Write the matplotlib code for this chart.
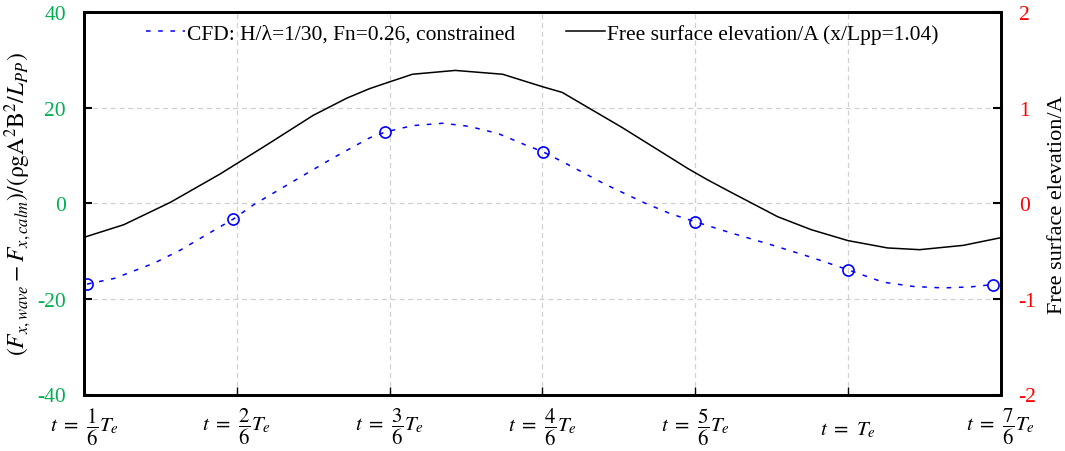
import numpy as np
import matplotlib
matplotlib.use("Agg")
import matplotlib.pyplot as plt
from matplotlib.transforms import ScaledTranslation

plt.rcParams['font.family'] = ['Liberation Serif', 'DejaVu Serif']
plt.rcParams['mathtext.fontset'] = 'stix'
plt.rcParams['axes.unicode_minus'] = False

# CFD force (left axis), x in units of Te/6
cfd_x = [1.02, 1.2, 1.46, 1.63, 1.80, 1.977, 2.11, 2.37, 2.63, 2.87, 2.97, 3.15, 3.35,
         3.52, 3.71, 3.89, 4.003, 4.15, 4.41, 4.67, 4.84, 5.0, 5.21, 5.50, 5.76, 6.0,
         6.23, 6.43, 6.62, 6.80, 6.95]
cfd_y = [-16.9, -15.7, -12.5, -9.8, -6.6, -3.3, -0.3, 4.6, 9.5, 13.7, 14.9, 16.25, 16.75,
         16.1, 14.6, 12.2, 10.8, 8.4, 4.0, 0.06, -2.2, -3.85, -5.95, -8.7, -11.3, -13.9,
         -16.5, -17.4, -17.7, -17.5, -17.0]
mark_x = [1.02, 1.977, 2.97, 4.003, 5.0, 6.0, 6.95]
mark_y = [-16.9, -3.3, 14.9, 10.8, -3.85, -13.9, -17.0]

# free surface elevation (right axis)
fs_x = [1.0, 1.26, 1.565, 1.89, 2.195, 2.50, 2.72, 2.87, 3.0, 3.15, 3.43, 3.74, 4.0,
        4.13, 4.52, 4.80, 4.95, 5.08, 5.235, 5.54, 5.76, 6.0, 6.26, 6.47, 6.755, 7.0]
fs_y = [-0.356, -0.224, 0.01, 0.306, 0.61, 0.92, 1.10, 1.20, 1.27, 1.35, 1.39, 1.35, 1.22,
        1.16, 0.795, 0.516, 0.366, 0.247, 0.115, -0.14, -0.276, -0.39, -0.467, -0.485,
        -0.44, -0.36]

xticks = [1, 2, 3, 4, 5, 6, 7]
xlabels = [r'$t\ =\ \dfrac{1}{6}T_e$', r'$t\ =\ \dfrac{2}{6}T_e$', r'$t\ =\ \dfrac{3}{6}T_e$',
           r'$t\ =\ \dfrac{4}{6}T_e$', r'$t\ =\ \dfrac{5}{6}T_e$', r'$t\ =\ T_e$',
           r'$t\ =\ \dfrac{7}{6}T_e$']

fig = plt.figure(figsize=(10.65, 4.52), dpi=100)
ax = fig.add_axes([0.0789, 0.125, 0.8607, 0.846])
ax2 = ax.twinx()

l1, = ax.plot(cfd_x, cfd_y, color='blue', lw=1.1, linestyle=(0, (3, 5)),
              label='CFD: H/λ=1/30, Fn=0.26, constrained')
ax.plot(mark_x, mark_y, 'o', mfc='none', mec='blue', ms=8, mew=1.2)
l2, = ax2.plot(fs_x, fs_y, color='black', lw=1.1,
               label='Free surface elevation/A (x/Lpp=1.04)')

ax.set_xlim(1, 7)
ax.set_ylim(-40, 40)
ax2.set_ylim(-2, 2)
ax.set_yticks([-40, -20, 0, 20, 40])
ax2.set_yticks([-2, -1, 0, 1, 2])
ax.set_xticks(xticks)
ax.set_xticklabels(xlabels, fontsize=15)

ax.grid(True, color='#d0d0d0', linestyle=(0, (4, 3)), lw=0.9)
ax.tick_params(axis='y', direction='in', labelsize=15.5, labelcolor='#00B050',
               length=6, width=1.5, pad=13)
ax.tick_params(axis='x', direction='in', length=6, width=1, pad=8)
ax2.tick_params(axis='y', direction='in', labelsize=15.5, labelcolor='red',
                length=6, width=1.5, pad=13)

# the label without a fraction sits lower, level with the others' "t ="
lab = ax.xaxis.get_major_ticks()[5].label1
lab.set_transform(lab.get_transform() + ScaledTranslation(0, -0.14, fig.dpi_scale_trans))

for a in (ax, ax2):
    for s in a.spines.values():
        s.set_linewidth(2)

ax.set_ylabel(r'$(F_{x,wave}-F_{x,calm})/(\mathrm{ρgA^2B^2}/L_{PP})$', fontsize=17, labelpad=3)
ax2.set_ylabel('Free surface elevation/A', fontsize=16, labelpad=8)

ax.legend([l1, l2], [l1.get_label(), l2.get_label()], loc='upper center',
          bbox_to_anchor=(0.5, 1.02), ncol=2, frameon=False, fontsize=15.5,
          handlelength=1.8, handletextpad=0.1, columnspacing=2.4)

fig.savefig('out.png', dpi=100)
